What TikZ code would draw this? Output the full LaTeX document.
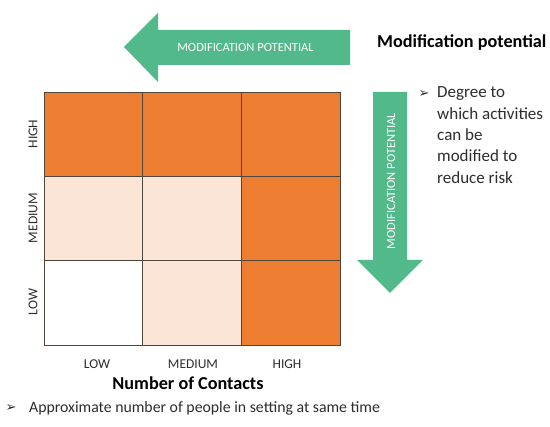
\documentclass[tikz,border=0pt]{standalone}
\usepackage{fontspec}
\setmainfont{Carlito}
\newfontfamily\symfont{DejaVu Sans}
\definecolor{orng}{HTML}{ED7D31}
\definecolor{peach}{HTML}{FBE5D6}
\definecolor{grn}{RGB}{82,186,138}
\definecolor{gridc}{RGB}{80,70,60}
\definecolor{txt}{RGB}{45,45,45}
\begin{document}
\begin{tikzpicture}[x=1pt,y=-1pt,
  cell/.style={draw=gridc, line width=0.9pt, minimum width=98.67pt, minimum height=84.33pt, inner sep=0pt, outer sep=0pt},
  axlab/.style={font=\fontsize{13.5}{16}\selectfont, text=txt},
  arrowtxt/.style={font=\fontsize{12.5}{15}\selectfont, text=white},
  head/.style={font=\fontsize{18.2}{22}\selectfont\bfseries, text=black},
  rbul/.style={font=\fontsize{17}{21}\selectfont, text=txt, anchor=base west, inner sep=0pt},
  bbul/.style={font=\fontsize{15.8}{19}\selectfont, text=txt, anchor=base west, inner sep=0pt},
  bulsym/.style={font=\symfont\fontsize{13}{15}\selectfont, text=txt, inner sep=0pt}]
\path[use as bounding box, fill=white] (0,0) rectangle (550,427);
% grid cells
\node[cell, fill=orng]  (h1) at (93.33,134.17) {};
\node[cell, fill=orng]  (h2) at (192,134.17) {};
\node[cell, fill=orng]  (h3) at (290.67,134.17) {};
\node[cell, fill=peach] (m1) at (93.33,218.5) {};
\node[cell, fill=peach] (m2) at (192,218.5) {};
\node[cell, fill=orng]  (m3) at (290.67,218.5) {};
\node[cell, fill=white] (l1) at (93.33,302.83) {};
\node[cell, fill=peach] (l2) at (192,302.83) {};
\node[cell, fill=orng]  (l3) at (290.67,302.83) {};
% axis labels
\node[axlab, rotate=90] (yh) at (33,134) {HIGH};
\node[axlab, rotate=90] (ym) at (33,218) {MEDIUM};
\node[axlab, rotate=90] (yl) at (33,302) {LOW};
\node[axlab] (xl) at (97,364) {LOW};
\node[axlab] (xm) at (193,364) {MEDIUM};
\node[axlab] (xh) at (287,364) {HIGH};
% top arrow
\fill[grn] (124,47) -- (158,13) -- (158,30) -- (350,30) -- (350,65) -- (158,65) -- (158,82) -- cycle;
\node[arrowtxt] (ta) at (245.5,47.5) {MODIFICATION POTENTIAL};
% vertical arrow
\fill[grn] (373,92) -- (407,92) -- (407,260) -- (423,260) -- (390,293) -- (357,260) -- (373,260) -- cycle;
\node[arrowtxt, rotate=90] (va) at (391,181) {MODIFICATION POTENTIAL};
% headings
\node[head, anchor=west, inner sep=0pt] (t1) at (377,43) {Modification potential};
\node[head] (t2) at (188,383) {Number of Contacts};
% bullets
\node[bulsym] (b1) at (424,94) {➢};
\node[rbul] (r1) at (437,98) {Degree to};
\node[rbul] (r2) at (437,119.3) {which activities};
\node[rbul] (r3) at (437,140.6) {can be};
\node[rbul] (r4) at (437,161.9) {modified to};
\node[rbul] (r5) at (437,183.2) {reduce risk};
\node[bulsym] (b2) at (11,408) {➢};
\node[bbul] (bt2) at (29,413) {Approximate number of people in setting at same time};
\end{tikzpicture}
\end{document}
